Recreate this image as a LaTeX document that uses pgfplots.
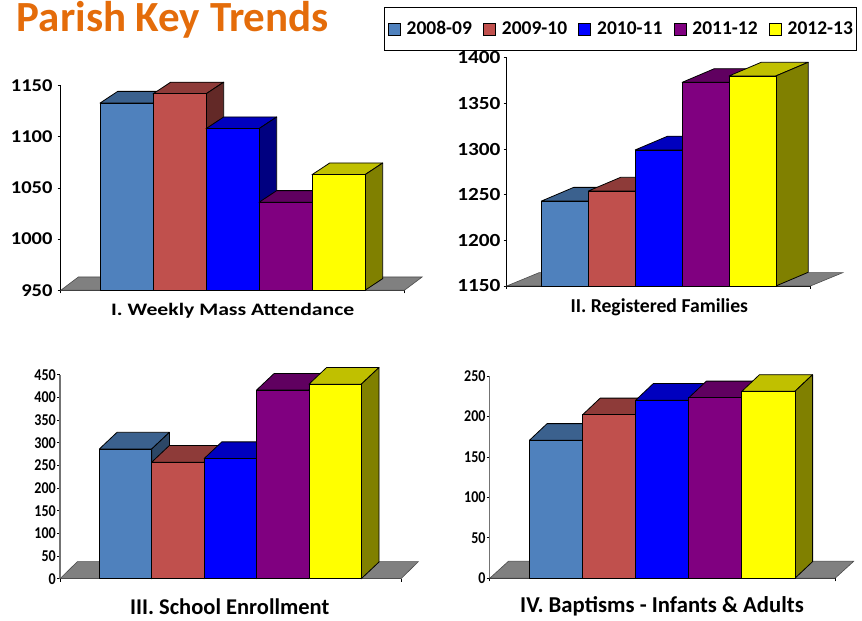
\documentclass[border=0pt]{standalone}
\usepackage{fontspec}
\setmainfont{Carlito}
\usepackage{pgfplots}
\pgfplotsset{compat=1.18}
\definecolor{ttl}{HTML}{E46C0A}
\definecolor{fA}{HTML}{4F81BD}\definecolor{tA}{HTML}{3B618E}\definecolor{sA}{HTML}{2C4766}
\definecolor{fB}{HTML}{C0504D}\definecolor{tB}{HTML}{8E3B39}\definecolor{sB}{HTML}{632927}
\definecolor{fC}{HTML}{0000FF}\definecolor{tC}{HTML}{0000BF}\definecolor{sC}{HTML}{000080}
\definecolor{fD}{HTML}{800080}\definecolor{tD}{HTML}{600060}\definecolor{sD}{HTML}{400040}
\definecolor{fE}{HTML}{FFFF00}\definecolor{tE}{HTML}{C0C000}\definecolor{sE}{HTML}{808000}
\newcommand{\fs}[1]{\fontsize{#1}{#1}\selectfont\bfseries}
\newcommand{\myface}[2]{\edef\mytemp{\noexpand\addplot[forget plot,draw=black,line width=0.8pt,line join=round,fill=#1] coordinates {#2} --cycle;}\mytemp}
% #1 position of bar (0-4), #2 value, #3 colour letter
\newcommand{\onebar}[3]{%
  \pgfmathsetmacro\myxa{\mybx+#1*\mybw}%
  \pgfmathsetmacro\myxb{\mybx+(#1+1)*\mybw}%
  \pgfmathsetmacro\myxc{\myxa+\mydx}%
  \pgfmathsetmacro\myxd{\myxb+\mydx}%
  \pgfmathsetmacro\myyu{#2+\mydy*\myupp}%
  \pgfmathsetmacro\myyv{\mybase+\mydy*\myupp}%
  \myface{t#3}{(\myxa,#2) (\myxb,#2) (\myxd,\myyu) (\myxc,\myyu)}%
  \myface{s#3}{(\myxb,\mybase) (\myxd,\myyv) (\myxd,\myyu) (\myxb,#2)}%
  \myface{f#3}{(\myxa,\mybase) (\myxb,\mybase) (\myxb,#2) (\myxa,#2)}%
}
\newcommand{\floorface}[3]{% width, dx, dy
  \pgfmathsetmacro\myxc{#1+#2}%
  \pgfmathsetmacro\myyu{\mybase+#3*\myupp}%
  \edef\mytemp{\noexpand\addplot[forget plot,draw=black!70,line width=0.6pt,fill=black!50] coordinates {(0,\mybase) (#2,\myyu) (\myxc,\myyu) (#1,\mybase)} --cycle;}\mytemp
}
\newcommand{\allbars}[5]{\onebar{0}{#1}{A}\onebar{1}{#2}{B}\onebar{2}{#3}{C}\onebar{3}{#4}{D}\onebar{4}{#5}{E}}
\pgfplotsset{
  pp/.style={scale only axis,clip=false,axis lines=left,axis line style={-,line width=0.9pt},
    tick align=outside,major tick length=3pt,tick style={black,line width=0.8pt},
    /pgf/number format/assume math mode=true,/pgf/number format/1000 sep={},
    xticklabels={},yticklabel style={inner sep=1pt,text=black},minor tick num=0},
}
\begin{document}
\begin{tikzpicture}[x=1pt,y=1pt]
\path[use as bounding box] (0,0) rectangle (862,621);
\node[anchor=base west,inner sep=0,text=ttl] at (16.7,589.3) {\fs{43}Parish Key Trends};
% I
\begin{axis}[pp,at={(60.7pt,330.7pt)},anchor=south west,width=343.7pt,height=204.6pt,
  xmin=0,xmax=343.7,ymin=950,ymax=1150,xtick={0,343.7},ytick={950,1000,1050,1100,1150},
  yticklabel={\scalebox{1.14}[1]{\pgfmathprintnumber{\tick}}},yticklabel style={font=\fs{18},inner xsep=5pt},
  legend columns=5,
  legend style={at={(0.9417,1.3847)},anchor=north west,draw=black,line width=0.9pt,fill=white,font=\fs{19.5},
    inner xsep=3pt,inner ysep=12pt,nodes={inner xsep=0pt},
    /tikz/every even column/.style={column sep=11.2pt},/tikz/every odd column/.style={column sep=6.3pt}},
  legend image code/.code={\draw[draw=black,line width=0.5pt,#1] (3pt,-6pt) rectangle (15pt,6pt);}]
\def\mybx{39.3}\def\mybw{53}\def\mydx{17.7}\def\mydy{11.7}\def\mybase{950}\def\myupp{0.9775}
\floorface{343.7}{17.7}{13.3}
\allbars{1133}{1142}{1108}{1036}{1063}
\addlegendimage{fill=fA}\addlegendentry{2008-09}
\addlegendimage{fill=fB}\addlegendentry{2009-10}
\addlegendimage{fill=fC}\addlegendentry{2010-11}
\addlegendimage{fill=fD}\addlegendentry{2011-12}
\addlegendimage{fill=fE}\addlegendentry{2012-13}
\end{axis}
% II
\begin{axis}[pp,at={(506.7pt,335pt)},anchor=south west,width=303.7pt,height=228.3pt,
  xmin=0,xmax=303.7,ymin=1150,ymax=1400,xtick={0,303.7},ytick={1150,1200,1250,1300,1350,1400},
  yticklabel={\scalebox{1.15}[1]{\pgfmathprintnumber{\tick}}},yticklabel style={font=\fs{18.5},inner xsep=3pt}]
\def\mybx{34.7}\def\mybw{46.9}\def\mydx{32.3}\def\mydy{13.7}\def\mybase{1150}\def\myupp{1.095}
\floorface{303.7}{32.3}{13.3}
\allbars{1243}{1254}{1299}{1373}{1380}
\end{axis}
% III
\begin{axis}[pp,at={(60pt,42.3pt)},anchor=south west,width=341pt,height=204pt,
  xmin=0,xmax=341,ymin=0,ymax=450,xtick={0,341},ytick={0,50,...,450},
  yticklabel={\scalebox{0.85}[1]{\pgfmathprintnumber{\tick}}},
  yticklabel style={font=\fs{16.5}},y axis line style={draw=black!55,line width=1.1pt}]
\def\mybx{39.3}\def\mybw{52.4}\def\mydx{17.7}\def\mydy{16.7}\def\mybase{0}\def\myupp{2.206}
\floorface{341}{17.3}{17}
\allbars{286}{257}{265}{416}{429}
\end{axis}
% IV
\begin{axis}[pp,at={(489.7pt,42.7pt)},anchor=south west,width=345.3pt,height=202.3pt,
  xmin=0,xmax=345.3,ymin=0,ymax=250,xtick={0,345.3},ytick={0,50,...,250},
  yticklabel={\scalebox{0.85}[1]{\pgfmathprintnumber{\tick}}},
  yticklabel style={font=\fs{16.5}},y axis line style={draw=black!55,line width=1.1pt}]
\def\mybx{39.7}\def\mybw{53.1}\def\mydx{17.7}\def\mydy{16.7}\def\mybase{0}\def\myupp{1.236}
\floorface{345.3}{18.7}{17}
\allbars{170.5}{202}{220}{223}{231}
\end{axis}
\node[inner sep=0] at (232.7,310) {\scalebox{1.24}[1]{\fs{17.5}I. Weekly Mass Attendance}};
\node[inner sep=0] at (659.3,314) {\fs{19.7}II. Registered Families};
\node[inner sep=0] at (229.7,14.3) {\fs{22.5}III. School Enrollment};
\node[inner sep=0] at (662,14.3) {\fs{22.7}IV. Baptisms - Infants \& Adults};
\end{tikzpicture}
\end{document}
